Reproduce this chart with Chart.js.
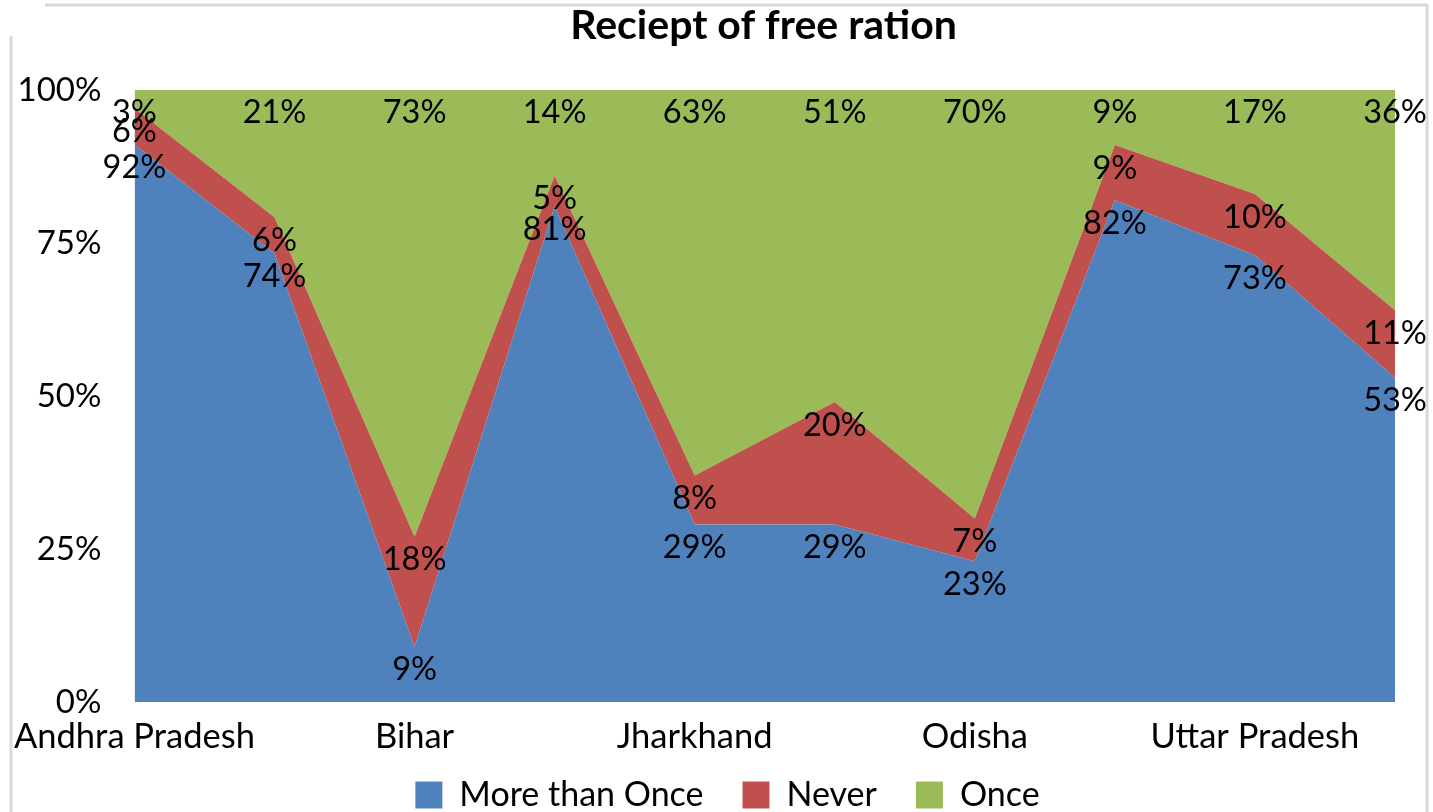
<!DOCTYPE html>
<html>
<head>
<meta charset="utf-8">
<title>Reciept of free ration</title>
<script src="https://cdn.jsdelivr.net/npm/chart.js@4.4.1/dist/chart.umd.min.js"></script>
<style>
  html, body { margin: 0; padding: 0; background: #fff; }
  #wrap { position: relative; width: 1433px; height: 812px; }
</style>
</head>
<body>
<div id="wrap"><canvas id="areaChart"></canvas></div>
<script>
// values (labels show these, the areas use each state's share)
const states = ['Andhra Pradesh', 'Assam', 'Bihar', 'Chhattisgarh', 'Jharkhand',
  'Madhya Pradesh', 'Odisha', 'Rajasthan', 'Uttar Pradesh', 'West Bengal'];
const moreThanOnce = [92, 74, 9, 81, 29, 29, 23, 82, 73, 53];
const never = [6, 6, 18, 5, 8, 20, 7, 9, 10, 11];
const once = [3, 21, 73, 14, 63, 51, 70, 9, 17, 36];
const yTicks = [0, 25, 50, 75, 100];

const FONT = 'Lato';

// 100% stacked: turn each series into its share of the state total
const totals = states.map((s, i) => moreThanOnce[i] + never[i] + once[i]);
const share = (arr) => arr.map((v, i) => (v / totals[i]) * 100);

const series = [
  { label: 'More than Once', raw: moreThanOnce, color: '#4F81BD', fill: 'origin' },
  { label: 'Never', raw: never, color: '#C0504D', fill: '-1' },
  { label: 'Once', raw: once, color: '#9BBB59', fill: '-1' },
];

// labels sit just under the top edge of each band
const areaLabels = {
  id: 'areaLabels',
  afterDatasetsDraw(chart) {
    const ctx = chart.ctx;
    ctx.save();
    ctx.font = '32.5px ' + FONT;
    ctx.fillStyle = '#000';
    ctx.textAlign = 'center';
    ctx.textBaseline = 'middle';
    chart.data.datasets.forEach((ds, d) => {
      chart.getDatasetMeta(d).data.forEach((pt, i) => {
        ctx.fillText(ds.raw[i] + '%', pt.x, pt.y + 23);
      });
    });
    ctx.restore();
  },
};

// white background and the grey frame of the pasted chart
const frame = {
  id: 'frame',
  beforeDraw(chart) {
    const ctx = chart.ctx;
    ctx.save();
    ctx.fillStyle = '#fff';
    ctx.fillRect(0, 0, chart.width, chart.height);
    ctx.strokeStyle = '#d9d9d9';
    ctx.lineWidth = 3;
    ctx.beginPath();
    ctx.moveTo(45, 5);
    ctx.lineTo(1427, 5);
    ctx.lineTo(1427, 812);
    ctx.moveTo(11, 36);
    ctx.lineTo(11, 812);
    ctx.stroke();
    ctx.restore();
  },
  afterLayout(chart) {
    // title and legend are not centred on the canvas in the original
    chart.titleBlock.left += 66;
    chart.titleBlock.right += 66;
    chart.legend.left += 30;
    chart.legend.right += 30;
    chart.legend.top += 10;
    chart.legend.bottom += 10;
    // let the category names hang below the thin axis box without clipping
    chart.scales.x.bottom = chart.scales.x.top + 80;
  },
};

new Chart(document.getElementById('areaChart'), {
  type: 'line',
  data: {
    labels: states,
    datasets: series.map((s) => ({
      label: s.label,
      raw: s.raw,
      data: share(s.raw),
      backgroundColor: s.color,
      borderColor: s.color,
      borderWidth: 0,
      pointRadius: 0,
      fill: s.fill,
      tension: 0,
    })),
  },
  options: {
    responsive: true,
    maintainAspectRatio: false,
    animation: false,
    events: [],
    layout: { padding: { left: 0, right: 38, top: 0, bottom: 0 } },
    scales: {
      x: {
        offset: false,
        grid: { display: false, drawTicks: false },
        border: { display: false },
        ticks: {
          autoSkip: false,
          maxRotation: 0,
          padding: 14,
          color: '#000',
          font: { family: FONT, size: 34.5 },
          callback: (v, i) => (i % 2 === 0 ? states[i] : ''),
        },
        afterFit: (scale) => { scale.height = 27; },
      },
      y: {
        stacked: true,
        min: 0,
        max: 100,
        grid: { display: false, drawTicks: false },
        border: { display: false },
        afterBuildTicks: (scale) => { scale.ticks = yTicks.map((v) => ({ value: v })); },
        ticks: {
          padding: 33,
          color: '#000',
          font: { family: FONT, size: 33 },
          callback: (v) => v + '%',
        },
        afterFit: (scale) => { scale.width = 133; },
      },
    },
    plugins: {
      title: {
        display: true,
        text: 'Reciept of free ration',
        color: '#000',
        font: { family: FONT, size: 41, weight: 'bold' },
        padding: { top: 1, bottom: 39.8 },
      },
      legend: {
        position: 'bottom',
        labels: {
          color: '#000',
          font: { family: FONT, size: 34 },
          boxWidth: 27,
          boxHeight: 27,
          padding: 39,
        },
      },
      tooltip: { enabled: false },
    },
  },
  plugins: [frame, areaLabels],
});
</script>
</body>
</html>
